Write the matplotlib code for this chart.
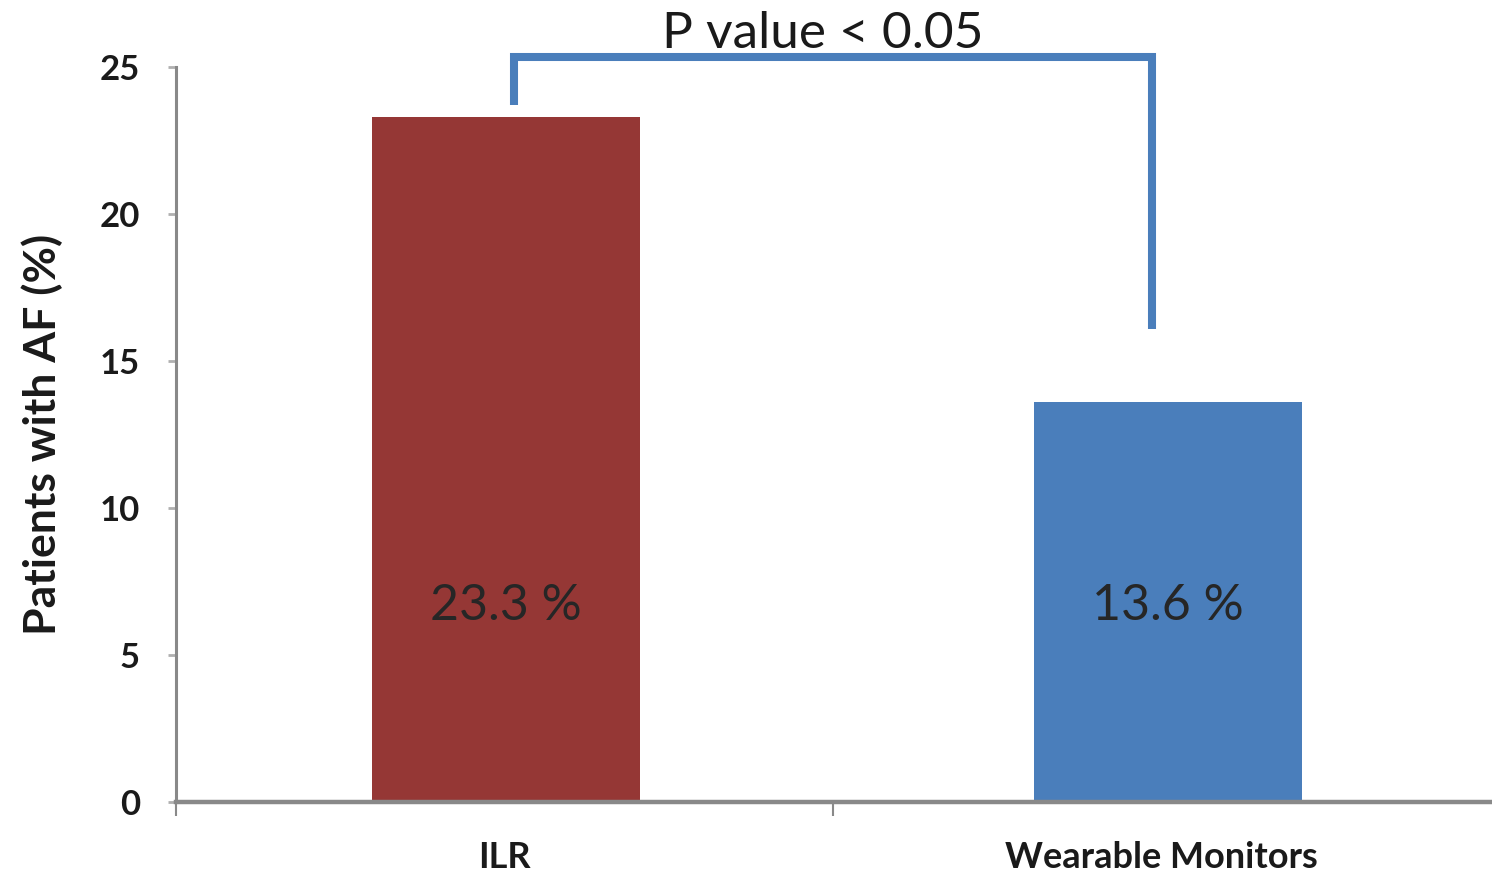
import matplotlib
matplotlib.use("Agg")
import matplotlib.pyplot as plt

categories = ["ILR", "Wearable Monitors"]
values = [23.3, 13.6]
value_labels = ["23.3 %", "13.6 %"]
bar_colors = ["#953735", "#4a7ebb"]
yticks = [0, 5, 10, 15, 20, 25]
p_text = "P value < 0.05"
ylabel = "Patients with AF (%)"

# bracket (data coords)
br_x = [0.015, 0.015, 0.985, 0.985]
br_y = [23.7, 25.34, 25.34, 16.1]

plt.rcParams['font.family'] = ['Lato', 'DejaVu Sans']

fig = plt.figure(figsize=(14.92, 8.72), dpi=100)
ax = fig.add_axes([176/1492, 70/872, 1314/1492, 735/872])

xpos = [0.002, 1.01]
ax.bar(xpos, values, width=0.408, color=bar_colors, zorder=2)
for x, lab in zip(xpos, value_labels):
    ax.text(x, 6.2, lab, ha='center', va='baseline', fontsize=36, color='#262626', zorder=3)

ax.plot(br_x, br_y, color='#4a7ebb', lw=5.8, solid_joinstyle='miter', solid_capstyle='butt', clip_on=False, zorder=3)
ax.text(0.485, 25.65, p_text, ha='center', va='baseline', fontsize=37, color='#1a1a1a')

ax.set_xlim(-0.5, 1.5)
ax.set_ylim(0, 25)
ax.set_yticks(yticks)
ax.set_yticklabels([str(t) for t in yticks], fontweight='bold', fontsize=25, color='#1a1a1a')
ax.set_xticks([0, 1.0])
ax.set_xticklabels(categories, fontweight='bold', fontsize=26, color='#1a1a1a')
ax.set_xticks([-0.5, 0.5], minor=True)
ax.tick_params(axis='x', which='major', length=0, pad=28)
ax.tick_params(axis='x', which='minor', length=10, width=1.5, color='#898989', direction='out')
ax.tick_params(axis='y', which='major', length=6, width=2, color='#b0b0b0', direction='out', pad=20)

for s in ['top', 'right']:
    ax.spines[s].set_visible(False)
ax.spines['left'].set_color('#898989')
ax.spines['left'].set_linewidth(2.2)
ax.spines['bottom'].set_color('#898989')
ax.spines['bottom'].set_linewidth(3.2)

ax.set_ylabel(ylabel, fontweight='bold', fontsize=32, color='#1a1a1a')
ax.yaxis.set_label_coords(-0.086, 0.5)

fig.savefig("out.png", dpi=100)
